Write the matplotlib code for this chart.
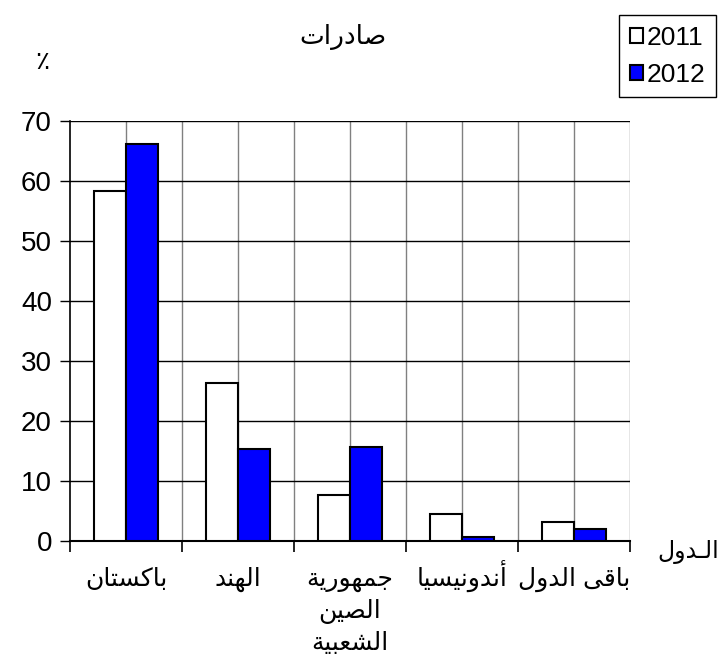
import numpy as np
import matplotlib
matplotlib.use('Agg')
import matplotlib.pyplot as plt
from matplotlib.patches import Patch

# data
countries = ['باكستان', 'الهند', 'جمهورية\nالصين\nالشعبية', 'أندونيسيا', 'باقى الدول']
exports_2011 = [58.3, 26.4, 7.6, 4.5, 3.1]
exports_2012 = [66.1, 15.4, 15.6, 0.7, 2.05]
years = ['2011', '2012']
y_ticks = [0, 10, 20, 30, 40, 50, 60, 70]
title_txt = 'صادرات'
xlabel_txt = 'الـدول'
ylabel_txt = '٪'

# matplotlib has no arabic shaping, so pick presentation forms by hand
# letter: (isolated, final, initial, medial); two forms -> joins on the right only
FORMS = {
    'ا': (0xFE8D, 0xFE8E), 'أ': (0xFE83, 0xFE84),
    'ب': (0xFE8F, 0xFE90, 0xFE91, 0xFE92), 'ة': (0xFE93, 0xFE94),
    'ت': (0xFE95, 0xFE96, 0xFE97, 0xFE98), 'ج': (0xFE9D, 0xFE9E, 0xFE9F, 0xFEA0),
    'د': (0xFEA9, 0xFEAA), 'ر': (0xFEAD, 0xFEAE),
    'س': (0xFEB1, 0xFEB2, 0xFEB3, 0xFEB4), 'ش': (0xFEB5, 0xFEB6, 0xFEB7, 0xFEB8),
    'ص': (0xFEB9, 0xFEBA, 0xFEBB, 0xFEBC), 'ع': (0xFEC9, 0xFECA, 0xFECB, 0xFECC),
    'ق': (0xFED5, 0xFED6, 0xFED7, 0xFED8), 'ك': (0xFED9, 0xFEDA, 0xFEDB, 0xFEDC),
    'ل': (0xFEDD, 0xFEDE, 0xFEDF, 0xFEE0), 'م': (0xFEE1, 0xFEE2, 0xFEE3, 0xFEE4),
    'ن': (0xFEE5, 0xFEE6, 0xFEE7, 0xFEE8), 'ه': (0xFEE9, 0xFEEA, 0xFEEB, 0xFEEC),
    'و': (0xFEED, 0xFEEE), 'ى': (0xFEEF, 0xFEF0),
    'ي': (0xFEF1, 0xFEF2, 0xFEF3, 0xFEF4),
}
TATWEEL = 'ـ'


def dual(c):
    return c == TATWEEL or (c in FORMS and len(FORMS[c]) == 4)


def joins(c):
    return c == TATWEEL or c in FORMS


def shape_line(s):
    out = []
    for i, c in enumerate(s):
        if c not in FORMS:
            out.append(c)
            continue
        prev = s[i - 1] if i > 0 else ''
        nxt = s[i + 1] if i + 1 < len(s) else ''
        left = dual(prev)
        right = dual(c) and joins(nxt)
        f = FORMS[c]
        if left and right:
            out.append(chr(f[3]))
        elif left:
            out.append(chr(f[1]))
        elif right:
            out.append(chr(f[2]))
        else:
            out.append(chr(f[0]))
    return ''.join(out)[::-1]


plt.rcParams['font.family'] = ['Liberation Sans', 'DejaVu Sans']

fig = plt.figure(figsize=(7.22, 6.55), dpi=100)
ax = fig.add_axes([70 / 722, 1 - 541 / 655, 560 / 722, 420 / 655])

x = np.arange(len(countries)) + 0.5
w = 0.29
ax.bar(x - w / 2, exports_2011, w, color='white', edgecolor='black', linewidth=1.5, zorder=3)
ax.bar(x + w / 2, exports_2012, w, color='#0000ff', edgecolor='black', linewidth=1.5, zorder=3)

ax.set_xlim(0, len(countries))
ax.set_ylim(0, 70)
ax.set_yticks(y_ticks)
ax.tick_params(axis='y', labelsize=20, length=7, width=1, direction='out', pad=6)

ax.set_xticks(np.arange(len(countries) + 1))
ax.set_xticklabels([])
ax.tick_params(axis='x', length=8, width=1.2, direction='out')

# category names, one line at a time so every first line shares a baseline
for xi, name in zip(x, countries):
    for k, line in enumerate(name.split('\n')):
        ax.annotate(shape_line(line), (xi, 0), xycoords=('data', 'axes fraction'),
                    xytext=(0, -32.5 - 23 * k), textcoords='offset points',
                    ha='center', va='baseline', fontsize=18, annotation_clip=False)

# vertical grid every half category, horizontal every 10
for gx in np.arange(0.5, len(countries) + 0.01, 0.5):
    ax.axvline(gx, color='#808080', lw=1, zorder=1)
for gy in y_ticks[1:]:
    ax.axhline(gy, color='black', lw=1, zorder=1)

for s in ['top', 'right']:
    ax.spines[s].set_visible(False)
ax.spines['left'].set_linewidth(1.2)
ax.spines['bottom'].set_linewidth(1.5)

fig.text(343 / 722, 1 - 37 / 655, shape_line(title_txt), fontsize=19, ha='center', va='center')
fig.text(42 / 722, 1 - 62 / 655, ylabel_txt, fontsize=19, ha='center', va='center')
fig.text(688 / 722, 1 - 552 / 655, shape_line(xlabel_txt), fontsize=17, ha='center', va='center')

handles = [Patch(facecolor='white', edgecolor='black', linewidth=1.5),
           Patch(facecolor='#0000ff', edgecolor='black', linewidth=1.5)]
leg = fig.legend(handles, years, loc='upper right', bbox_to_anchor=(716 / 722, 1 - 15 / 655),
                 fontsize=19, handlelength=0.5, handleheight=0.5, handletextpad=0.15,
                 borderpad=0.4, borderaxespad=0, labelspacing=0.5, fancybox=False,
                 framealpha=1, edgecolor='black')
leg.get_frame().set_linewidth(1)

fig.savefig('out.png', dpi=100)
